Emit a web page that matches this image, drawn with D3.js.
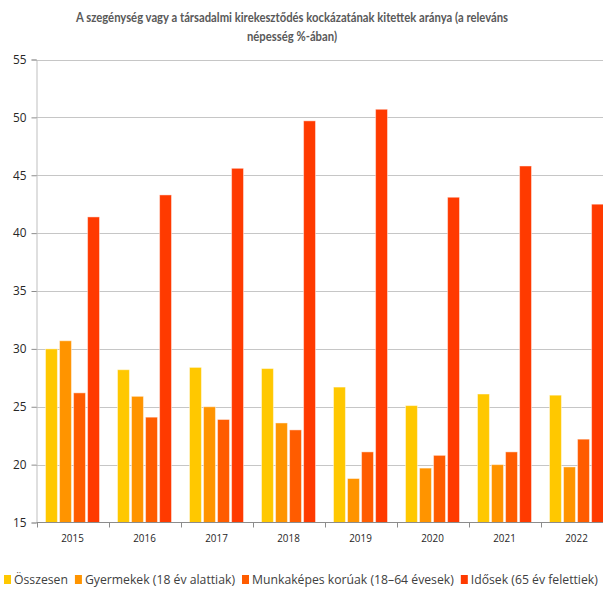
<!DOCTYPE html>
<html><head><meta charset="utf-8">
<script src="https://cdn.jsdelivr.net/npm/d3@7"></script>
<style>body{margin:0;background:#fff}svg{display:block}</style>
</head><body>
<svg id="c" width="603" height="589"></svg>
<script>
const years = ["2015","2016","2017","2018","2019","2020","2021","2022"];
const seriesNames = ["Összesen","Gyermekek (18 év alattiak)","Munkaképes korúak (18–64 évesek)","Idősek (65 év felettiek)"];
const osszesen   = [30.0, 28.2, 28.4, 28.3, 26.7, 25.1, 26.1, 26.0];
const gyermekek  = [30.7, 25.9, 25.0, 23.6, 18.8, 19.7, 20.0, 19.8];
const munkakepes = [26.2, 24.1, 23.9, 23.0, 21.1, 20.8, 21.1, 22.2];
const idosek     = [41.4, 43.3, 45.6, 49.7, 50.7, 43.1, 45.8, 42.5];
const yTicks = [15,20,25,30,35,40,45,50,55];
const colors = ["#FFC800","#FF9400","#FF5C00","#FF3A00"];
const titleLines = ["A szegénység vagy a társadalmi kirekesztődés kockázatának kitettek aránya (a releváns","népesség %-ában)"];

const values = [osszesen, gyermekek, munkakepes, idosek];
const svg = d3.select("#c");
const font = "Lato, 'Open Sans', sans-serif";
const lfont = "'Open Sans', Lato, sans-serif";

function fit(sel, target, base) {
  const w = sel.node().getComputedTextLength();
  sel.attr("font-size", base * target / w);
}

const x = d3.scaleBand().domain(years).range([36.5, 612.5]).paddingInner(0).paddingOuter(0);
const xs = d3.scaleBand().domain(d3.range(4)).range([9, 63]).paddingInner(0.15);
const y = d3.scaleLinear().domain([15,55]).range([522.5, 59.5]);

// gridlines
svg.append("g").selectAll("line").data(yTicks.slice(1)).join("line")
  .attr("x1", 36.5).attr("x2", 603).attr("y1", d=>Math.round(y(d))+0.5).attr("y2", d=>Math.round(y(d))+0.5)
  .attr("stroke", "#8c8c8c").attr("stroke-dasharray","1,1").attr("stroke-width",1);

// bars
const data = [];
years.forEach((yr,i)=>values.forEach((arr,s)=>data.push({yr, s, v: arr[i]})));
svg.append("g").selectAll("rect").data(data).join("rect")
  .attr("x", d=>x(d.yr)+xs(d.s))
  .attr("width", xs.bandwidth())
  .attr("y", d=>y(d.v))
  .attr("height", d=>y(15)-y(d.v))
  .attr("fill", d=>colors[d.s])
  .attr("stroke", "rgba(255,255,255,0.45)").attr("stroke-width",1);

// y axis
const yAxis = d3.axisLeft(y).tickValues(yTicks).tickSize(5).tickPadding(5);
const gy = svg.append("g").attr("transform","translate(36.5,0)").call(yAxis);
gy.select(".domain").attr("stroke","#bfbfbf");
gy.selectAll(".tick line").attr("stroke","#8c8c8c");
gy.selectAll(".tick text").attr("font-family",lfont).attr("font-size",12).attr("fill","#262626");
fit(gy.select(".tick text"), 13.5, 12);
gy.selectAll(".tick text").attr("font-size", gy.select(".tick text").attr("font-size"));

// x axis
const xAxis = d3.axisBottom(x).tickSize(0).tickPadding(12);
const gx = svg.append("g").attr("transform","translate(0,522.5)").call(xAxis);
gx.select(".domain").remove();
gx.append("line").attr("x1",36.5).attr("x2",603).attr("stroke","#8c8c8c");
gx.selectAll(".tick text").attr("font-family",lfont).attr("font-size",11).attr("fill","#262626");
fit(gx.select(".tick text"), 22.6, 11);
gx.selectAll(".tick text").attr("font-size", gx.select(".tick text").attr("font-size"));
gx.selectAll(".sep").data(years).join("line").attr("class","sep")
  .attr("x1",d=>Math.round(x(d))+0.5).attr("x2",d=>Math.round(x(d))+0.5).attr("y1",0).attr("y2",5)
  .attr("stroke","#8c8c8c");

// title: slightly condensed to mimic a narrow bold face
const tg = svg.append("g");
const tl = titleLines.map((t,i)=>tg.append("text").attr("x", 292).attr("y", 22 + i*19).attr("text-anchor","middle")
    .attr("font-family",font).attr("font-weight","bold").attr("font-size",13).attr("fill","#595959").text(t));
const squeeze = 432 / tl[0].node().getComputedTextLength();
tl.forEach(t=>{
  const w = t.node().getComputedTextLength();
  t.attr("textLength", w*squeeze).attr("lengthAdjust","spacingAndGlyphs");
});

// legend: flow layout, one common font size fitted so the row spans 4..598
const lg = svg.append("g");
const items = seriesNames.map((n,i)=>{
  const r = lg.append("rect").attr("y",575).attr("width",7).attr("height",9).attr("fill",colors[i]);
  const t = lg.append("text").attr("y",584).attr("font-family",lfont).attr("font-size",12)
    .attr("fill","#404040").text(n);
  return {r, t};
});
const baseW = d3.sum(items, d=>d.t.node().getComputedTextLength());
const fixedW = items.length*10 + (items.length-1)*7;
const ls = 12 * (598 - 4 - fixedW) / baseW;
let cx = 4;
items.forEach(({r,t})=>{
  t.attr("font-size", ls);
  r.attr("x", cx);
  t.attr("x", cx+10);
  cx = cx + 10 + t.node().getComputedTextLength() + 7;
});
</script>
</body></html>
